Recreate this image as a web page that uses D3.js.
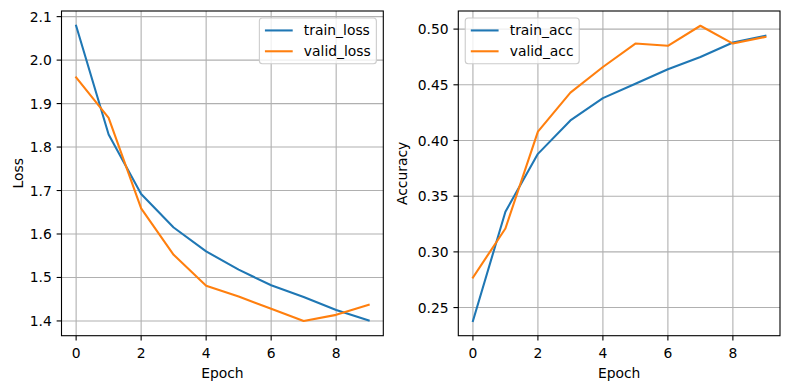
<!DOCTYPE html>
<html>
<head>
<meta charset="utf-8">
<script src="https://cdn.jsdelivr.net/npm/d3@7"></script>
<style>
  body { margin: 0; background: #fff; }
  svg { display: block; font-family: 'DejaVu Sans', sans-serif; }
</style>
</head>
<body>
<div id="chart"></div>
<script>
const epochs = [0, 1, 2, 3, 4, 5, 6, 7, 8, 9];
const trainLoss = [2.079, 1.829, 1.692, 1.615, 1.560, 1.518, 1.482, 1.455, 1.425, 1.401];
const validLoss = [1.960, 1.867, 1.659, 1.552, 1.481, 1.456, 1.428, 1.400, 1.414, 1.437];
const trainAcc = [0.238, 0.336, 0.388, 0.418, 0.438, 0.451, 0.464, 0.475, 0.488, 0.494];
const validAcc = [0.277, 0.321, 0.408, 0.443, 0.466, 0.487, 0.485, 0.503, 0.487, 0.493];
const xTicks = [0, 2, 4, 6, 8];
const lossTicks = [1.4, 1.5, 1.6, 1.7, 1.8, 1.9, 2.0, 2.1];
const accTicks = [0.25, 0.30, 0.35, 0.40, 0.45, 0.50];

const W = 790, H = 389;
const fs = 13.89;
const colors = ['#1f77b4', '#ff7f0e'];

const svg = d3.select('#chart').append('svg').attr('width', W).attr('height', H);

// one subplot: box, grid, ticks, lines, legend
const drawPanel = (opts) => {
  const { x0, x1, y0, y1, series, names, yTicks, yFmt, yLabel, yLabelX, legendLoc } = opts;
  const all = series.flat();
  const xPad = 9 * 0.05;
  const yMin = d3.min(all), yMax = d3.max(all);
  const yPad = (yMax - yMin) * 0.05;
  const x = d3.scaleLinear().domain([-xPad, 9 + xPad]).range([x0, x1]);
  const y = d3.scaleLinear().domain([yMin - yPad, yMax + yPad]).range([y1, y0]);
  const g = svg.append('g');

  // grid
  g.selectAll('.gx').data(xTicks).join('line')
    .attr('x1', (d) => x(d)).attr('x2', (d) => x(d))
    .attr('y1', y0).attr('y2', y1)
    .attr('stroke', '#b0b0b0').attr('stroke-width', 1.1);
  g.selectAll('.gy').data(yTicks).join('line')
    .attr('y1', (d) => y(d)).attr('y2', (d) => y(d))
    .attr('x1', x0).attr('x2', x1)
    .attr('stroke', '#b0b0b0').attr('stroke-width', 1.1);

  // lines
  const line = d3.line().x((d, i) => x(epochs[i])).y((d) => y(d));
  series.forEach((s, i) => {
    g.append('path').datum(s).attr('d', line)
      .attr('fill', 'none').attr('stroke', colors[i])
      .attr('stroke-width', 2.08).attr('stroke-linejoin', 'round').attr('stroke-linecap', 'square');
  });

  // axes frame
  g.append('rect').attr('x', x0).attr('y', y0).attr('width', x1 - x0).attr('height', y1 - y0)
    .attr('fill', 'none').attr('stroke', '#000').attr('stroke-width', 1.1);

  // x ticks
  const xt = g.selectAll('.xt').data(xTicks).join('g').attr('transform', (d) => `translate(${x(d)},${y1})`);
  xt.append('line').attr('y2', 4.86).attr('stroke', '#000').attr('stroke-width', 1.1);
  xt.append('text').attr('y', 22.6).attr('text-anchor', 'middle')
    .attr('font-size', fs).attr('fill', '#000').text((d) => d);

  // y ticks
  const yt = g.selectAll('.yt').data(yTicks).join('g').attr('transform', (d) => `translate(${x0},${y(d)})`);
  yt.append('line').attr('x2', -4.86).attr('stroke', '#000').attr('stroke-width', 1.1);
  yt.append('text').attr('x', -9.7).attr('dy', '0.36em').attr('text-anchor', 'end')
    .attr('font-size', fs).attr('fill', '#000').text((d) => yFmt(d));

  // axis labels
  g.append('text').attr('x', (x0 + x1) / 2).attr('y', 377.5).attr('text-anchor', 'middle')
    .attr('font-size', fs).text('Epoch');
  g.append('text').attr('transform', `translate(${yLabelX},${(y0 + y1) / 2}) rotate(-90)`)
    .attr('text-anchor', 'middle').attr('font-size', fs).text(yLabel);

  // legend
  const lg = g.append('g');
  const labels = lg.selectAll('.lt').data(names).join('text')
    .attr('font-size', fs).text((d) => d);
  const textW = d3.max(labels.nodes(), (n) => n.getComputedTextLength());
  const pad = 0.4 * fs, rowH = fs, gap = 0.5 * fs;
  const boxW = pad * 2 + 2 * fs + 0.8 * fs + textW;
  const boxH = pad * 2 + names.length * rowH + (names.length - 1) * gap;
  const bx = legendLoc === 'right' ? x1 - 0.5 * fs - boxW : x0 + 0.5 * fs;
  const by = y0 + 0.5 * fs;
  lg.insert('rect', 'text').attr('x', bx).attr('y', by).attr('width', boxW).attr('height', boxH)
    .attr('rx', 3).attr('fill', '#fff').attr('fill-opacity', 0.8)
    .attr('stroke', '#cccccc').attr('stroke-width', 1.1);
  names.forEach((n, i) => {
    const cy = by + pad + i * (rowH + gap) + rowH / 2;
    lg.append('line').attr('x1', bx + pad).attr('x2', bx + pad + 2 * fs)
      .attr('y1', cy).attr('y2', cy).attr('stroke', colors[i]).attr('stroke-width', 2.08);
  });
  labels.attr('x', bx + pad + 2.8 * fs)
    .attr('y', (d, i) => by + pad + i * (rowH + gap) + rowH / 2)
    .attr('dy', '0.36em');
};

drawPanel({
  x0: 61.5, x1: 383.3, y0: 11, y1: 335.7,
  series: [trainLoss, validLoss], names: ['train_loss', 'valid_loss'],
  yTicks: lossTicks, yFmt: d3.format('.1f'), yLabel: 'Loss', yLabelX: 22.5, legendLoc: 'right'
});
drawPanel({
  x0: 458.3, x1: 780, y0: 11, y1: 335.7,
  series: [trainAcc, validAcc], names: ['train_acc', 'valid_acc'],
  yTicks: accTicks, yFmt: d3.format('.2f'), yLabel: 'Accuracy', yLabelX: 406.5, legendLoc: 'left'
});
</script>
</body>
</html>
